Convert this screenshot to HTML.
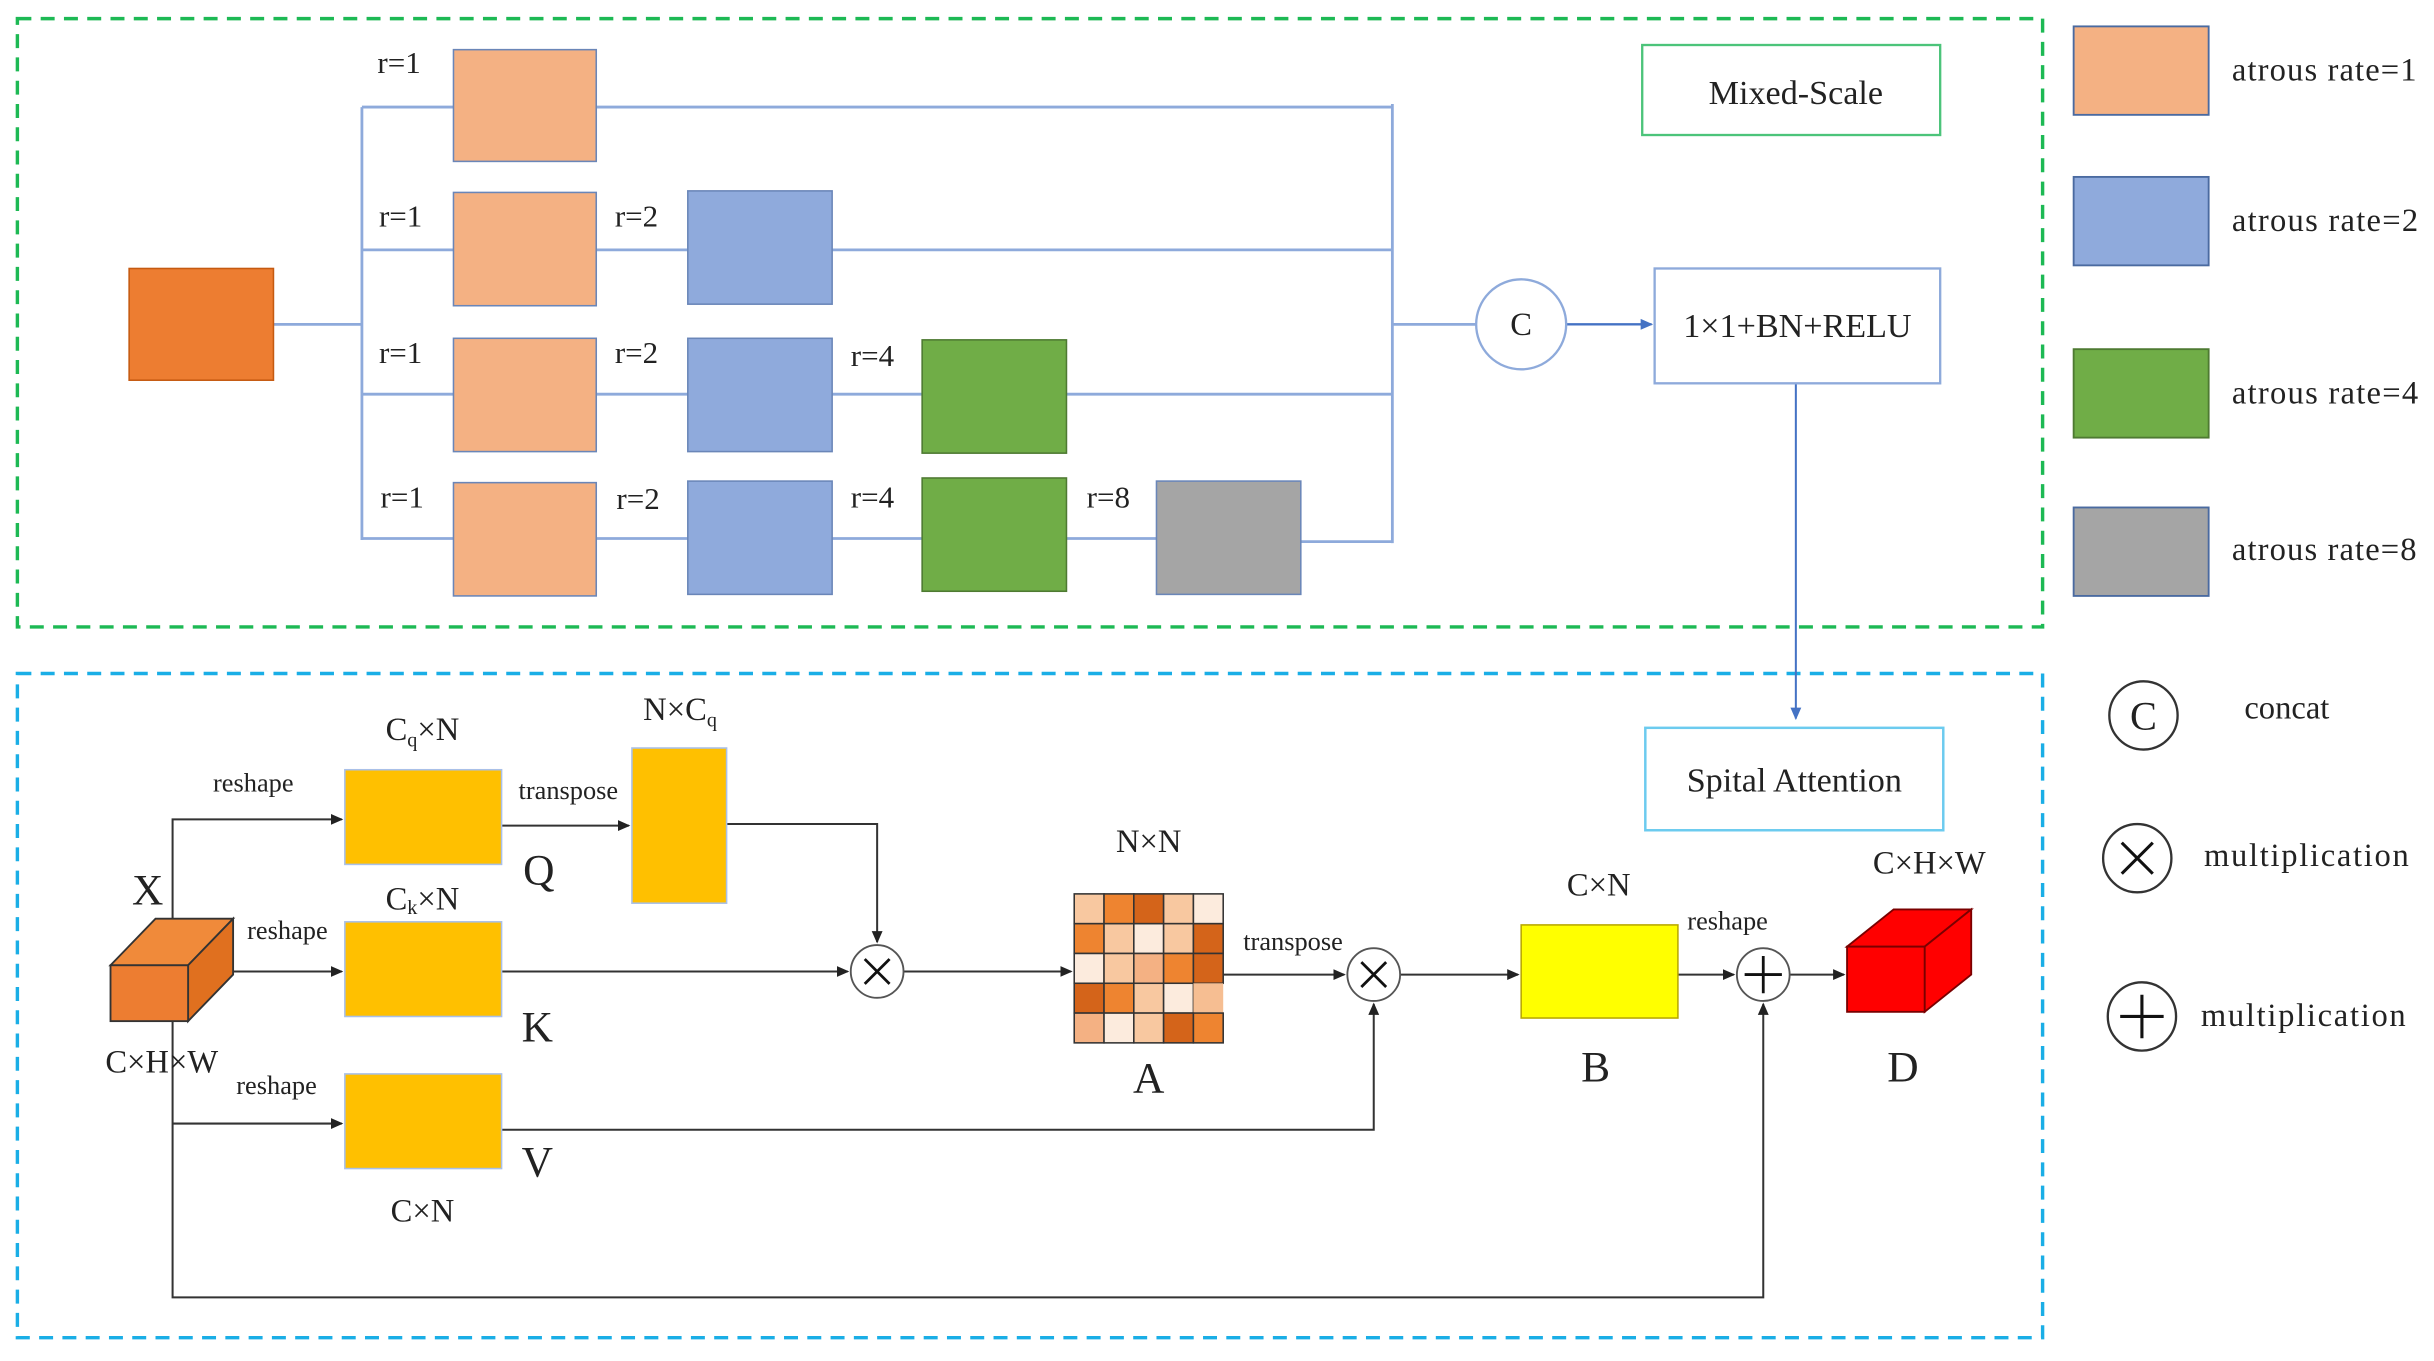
<!DOCTYPE html>
<html><head><meta charset="utf-8"><style>html,body{margin:0;padding:0;background:#fff}svg{display:block}
svg text{font-family:"Liberation Serif","DejaVu Serif",serif}</style></head>
<body>
<svg width="2434" height="1361" viewBox="0 0 1568 877" xmlns="http://www.w3.org/2000/svg" style="font-family:'Liberation Serif',serif" fill="#222">
<defs>
<marker id="ab" markerWidth="8" markerHeight="8" refX="7" refY="4" orient="auto" markerUnits="userSpaceOnUse"><path d="M0,0.5 L8,4 L0,7.5z" fill="#222"/></marker>
<marker id="abb" markerWidth="8" markerHeight="8" refX="7" refY="4" orient="auto" markerUnits="userSpaceOnUse"><path d="M0,0.5 L8,4 L0,7.5z" fill="#4472C4"/></marker>
</defs>
<rect x="0" y="0" width="1568" height="877" fill="#fff"/>
<rect x="11" y="12" width="1305" height="392" fill="none" stroke="#1DB954" stroke-width="2.2" stroke-dasharray="9,6"/>
<rect x="11" y="434" width="1305" height="428" fill="none" stroke="#1AAEE6" stroke-width="2.2" stroke-dasharray="9,6"/>

<g stroke="#8EAADB" stroke-width="1.8" fill="none">
<path d="M176 209H233M233 69V348M233 69H292M233 161H292M233 254H292M233 347H292"/>
<path d="M384 69H897M384 161H443M536 161H897M384 254H443M536 254H594M687 254H897M384 347H443M536 347H594M687 347H745M838 349H897M897 67V350M897 209H952"/>
</g>
<path d="M1009 209H1064" stroke="#4472C4" stroke-width="1.5" marker-end="url(#abb)"/>
<path d="M1157 247V463" stroke="#4472C4" stroke-width="1.3" marker-end="url(#abb)"/>
<circle cx="980" cy="209" r="29" fill="#fff" stroke="#8EAADB" stroke-width="1.5"/>
<text x="980" y="216" font-size="21" text-anchor="middle">C</text>
<rect x="83" y="173" width="93" height="72" fill="#ED7D31" stroke="#C55A11" stroke-width="1"/>
<g stroke="#6a86b8" stroke-width="1">
<rect x="292" y="32" width="92" height="72" fill="#F4B183"/>
<rect x="292" y="124" width="92" height="73" fill="#F4B183"/>
<rect x="292" y="218" width="92" height="73" fill="#F4B183"/>
<rect x="292" y="311" width="92" height="73" fill="#F4B183"/>
<rect x="443" y="123" width="93" height="73" fill="#8FAADC"/>
<rect x="443" y="218" width="93" height="73" fill="#8FAADC"/>
<rect x="443" y="310" width="93" height="73" fill="#8FAADC"/>
<rect x="594" y="219" width="93" height="73" fill="#70AD47" stroke="#4e7a32"/>
<rect x="594" y="308" width="93" height="73" fill="#70AD47" stroke="#4e7a32"/>
<rect x="745" y="310" width="93" height="73" fill="#A5A5A5"/>
</g>
<g font-size="20">
<text x="243" y="47">r=1</text><text x="244" y="146">r=1</text><text x="244" y="234">r=1</text><text x="245" y="327">r=1</text>
<text x="396" y="146">r=2</text><text x="396" y="234">r=2</text><text x="397" y="328">r=2</text>
<text x="548" y="236">r=4</text><text x="548" y="327">r=4</text><text x="700" y="327">r=8</text>
</g>
<rect x="1058" y="29" width="192" height="58" fill="#fff" stroke="#4CC47A" stroke-width="1.5"/>
<text x="1157" y="67" font-size="22" text-anchor="middle">Mixed-Scale</text>
<rect x="1066" y="173" width="184" height="74" fill="#fff" stroke="#8EAADB" stroke-width="1.5"/>
<text x="1158" y="217" font-size="22" text-anchor="middle">1×1+BN+RELU</text>

<g stroke="#4a6aa0" stroke-width="1.2">
<rect x="1336" y="17" width="87" height="57" fill="#F4B183"/>
<rect x="1336" y="114" width="87" height="57" fill="#8FAADC"/>
<rect x="1336" y="225" width="87" height="57" fill="#70AD47" stroke="#4e7a32"/>
<rect x="1336" y="327" width="87" height="57" fill="#A5A5A5"/>
</g>
<g font-size="21">
<text x="1438" y="52" textLength="119">atrous rate=1</text>
<text x="1438" y="149" textLength="120">atrous rate=2</text>
<text x="1438" y="260" textLength="120">atrous rate=4</text>
<text x="1438" y="361" textLength="119">atrous rate=8</text>
<text x="1446" y="463">concat</text>
<text x="1420" y="558" textLength="132">multiplication</text>
<text x="1418" y="661" textLength="132">multiplication</text>
</g>
<g fill="#fff" stroke="#333" stroke-width="1.5">
<circle cx="1381" cy="461" r="22"/><circle cx="1377" cy="553" r="22"/><circle cx="1380" cy="655" r="22"/>
</g>
<text x="1381" y="470" font-size="26" text-anchor="middle">C</text>
<path d="M1367 543L1387 563M1387 543L1367 563M1366 655H1394M1380 641V669" stroke="#111" stroke-width="2"/>

<rect x="1060" y="469" width="192" height="66" fill="#fff" stroke="#6CCBEF" stroke-width="1.6"/>
<text x="1156" y="510" font-size="22" text-anchor="middle">Spital Attention</text>

<g stroke="#333" stroke-width="1.3" fill="none">
<path d="M111 592V528H220" marker-end="url(#ab)"/>
<path d="M150 626H220" marker-end="url(#ab)"/>
<path d="M111 658V836H1136V647" marker-end="url(#ab)"/>
<path d="M111 724H220" marker-end="url(#ab)"/>
<path d="M323 532H405" marker-end="url(#ab)"/>
<path d="M468 531H565V607" marker-end="url(#ab)"/>
<path d="M323 626H546" marker-end="url(#ab)"/>
<path d="M582 626H690" marker-end="url(#ab)"/>
<path d="M788 628H866" marker-end="url(#ab)"/>
<path d="M323 728H885V647" marker-end="url(#ab)"/>
<path d="M902 628H978" marker-end="url(#ab)"/>
<path d="M1081 628H1117" marker-end="url(#ab)"/>
<path d="M1153 628H1188" marker-end="url(#ab)"/>
</g>
<g stroke="#555" stroke-width="1.2" fill="#fff">
<circle cx="565" cy="626" r="17"/><circle cx="885" cy="628" r="17"/><circle cx="1136" cy="628" r="17"/>
</g>
<path d="M557 618L573 634M573 618L557 634M877 620L893 636M893 620L877 636M1124 628H1148M1136 616V640" stroke="#111" stroke-width="1.8"/>

<g stroke="#333" stroke-width="1.2" fill="#ED7D31">
<path d="M71 622L100 592H150L121 622Z" fill="#F08A3A"/>
<path d="M121 622L150 592V628L121 658Z" fill="#E0701F"/>
<rect x="71" y="622" width="50" height="36"/>
</g>
<g stroke="#7a0000" stroke-width="1.2" fill="#FF0000">
<path d="M1190 610L1220 586H1270L1240 610Z"/>
<path d="M1240 610L1270 586V628L1240 652Z"/>
<rect x="1190" y="610" width="50" height="42"/>
</g>

<g stroke="#A9C0E8" stroke-width="1" fill="#FFC000">
<rect x="222" y="496" width="101" height="61"/>
<rect x="222" y="594" width="101" height="61"/>
<rect x="222" y="692" width="101" height="61"/>
<rect x="407" y="482" width="61" height="100"/>
</g>
<rect x="980" y="596" width="101" height="60" fill="#FFFF00" stroke="#B8A800" stroke-width="1"/>

<g stroke="#333" stroke-width="1">
<rect x="692" y="576" width="19.2" height="19.2" fill="#F8C8A0"/><rect x="711.2" y="576" width="19.2" height="19.2" fill="#EE8430"/><rect x="730.4" y="576" width="19.2" height="19.2" fill="#D4641A"/><rect x="749.6" y="576" width="19.2" height="19.2" fill="#F8C8A0"/><rect x="768.8" y="576" width="19.2" height="19.2" fill="#FCEBDD"/>
<rect x="692" y="595.2" width="19.2" height="19.2" fill="#EE8430"/><rect x="711.2" y="595.2" width="19.2" height="19.2" fill="#F8C8A0"/><rect x="730.4" y="595.2" width="19.2" height="19.2" fill="#FCEBDD"/><rect x="749.6" y="595.2" width="19.2" height="19.2" fill="#F8C8A0"/><rect x="768.8" y="595.2" width="19.2" height="19.2" fill="#D4641A"/>
<rect x="692" y="614.4" width="19.2" height="19.2" fill="#FCEBDD"/><rect x="711.2" y="614.4" width="19.2" height="19.2" fill="#F8C8A0"/><rect x="730.4" y="614.4" width="19.2" height="19.2" fill="#F4B183"/><rect x="749.6" y="614.4" width="19.2" height="19.2" fill="#EE8430"/><rect x="768.8" y="614.4" width="19.2" height="19.2" fill="#D4641A"/>
<rect x="692" y="633.6" width="19.2" height="19.2" fill="#D4641A"/><rect x="711.2" y="633.6" width="19.2" height="19.2" fill="#EE8430"/><rect x="730.4" y="633.6" width="19.2" height="19.2" fill="#F8C8A0"/><rect x="749.6" y="633.6" width="19.2" height="19.2" fill="#FCEBDD"/><rect x="768.8" y="633.6" width="19.2" height="19.2" fill="#F6BE92" stroke="none"/>
<rect x="692" y="652.8" width="19.2" height="19.2" fill="#F4B183"/><rect x="711.2" y="652.8" width="19.2" height="19.2" fill="#FCEBDD"/><rect x="730.4" y="652.8" width="19.2" height="19.2" fill="#F8C8A0"/><rect x="749.6" y="652.8" width="19.2" height="19.2" fill="#D4641A"/><rect x="768.8" y="652.8" width="19.2" height="19.2" fill="#EE8430"/>
</g>

<g font-size="21" text-anchor="middle">
<text x="272" y="477">C<tspan font-size="13" dy="4">q</tspan><tspan dy="-4">×N</tspan></text>
<text x="438" y="464">N×C<tspan font-size="13" dy="4">q</tspan></text>
<text x="272" y="586">C<tspan font-size="13" dy="3">k</tspan><tspan dy="-3">×N</tspan></text>
<text x="272" y="787">C×N</text>
<text x="104" y="691">C×H×W</text>
<text x="740" y="549">N×N</text>
<text x="1030" y="577">C×N</text>
<text x="1243" y="563">C×H×W</text>
</g>
<g font-size="28" text-anchor="middle">
<text x="95" y="583">X</text>
<text x="347" y="570">Q</text>
<text x="346" y="671">K</text>
<text x="346" y="758">V</text>
<text x="740" y="704">A</text>
<text x="1028" y="697">B</text>
<text x="1226" y="697">D</text>
</g>
<g font-size="17" text-anchor="middle">
<text x="163" y="510">reshape</text>
<text x="185" y="605">reshape</text>
<text x="178" y="705">reshape</text>
<text x="366" y="515">transpose</text>
<text x="833" y="612">transpose</text>
<text x="1113" y="599">reshape</text>
</g>
</svg>
</body></html>
